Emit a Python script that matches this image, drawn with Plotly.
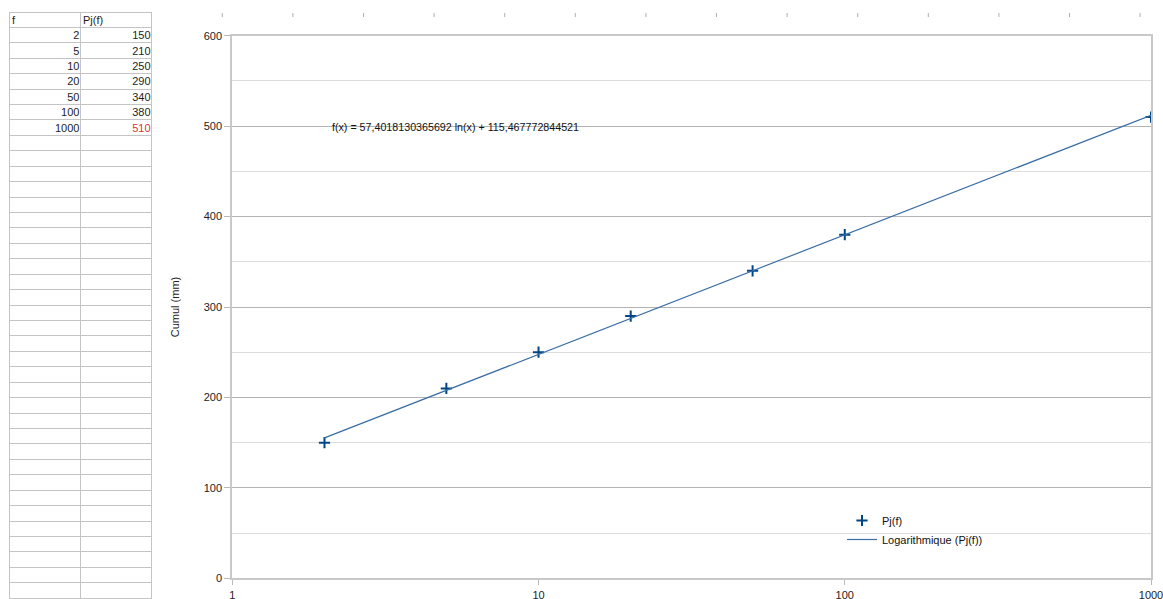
import numpy as np
import plotly.graph_objects as go

# ---- data ----
f_vals = [2, 5, 10, 20, 50, 100, 1000]
pj_vals = [150, 210, 250, 290, 340, 380, 510]
col_headers = ["f", "Pj(f)"]
x_tick_vals = [1, 10, 100, 1000]
x_tick_text = ["1", "10", "100", "1000"]
y_tick_vals = [0, 100, 200, 300, 400, 500, 600]
series_name = "Pj(f)"
trend_name = "Logarithmique (Pj(f))"
y_title = "Cumul (mm)"

W, H = 1163, 599
FONT = "Liberation Sans, Arial, sans-serif"
TXT = "#1e1e1e"

# logarithmic trend line (least squares on ln x)
a, b = np.polyfit(np.log(f_vals), pj_vals, 1)
eq_text = "f(x) = " + f"{a:.13f}".replace(".", ",") + " ln(x) + " + f"{b:.12f}".replace(".", ",")
xt = np.geomspace(min(f_vals), max(f_vals), 60)
yt = a * np.log(xt) + b

fig = go.Figure()

# ---- spreadsheet on the left ----
ROW_H = 15.43
HEAD_H = 15.3
TOP = 12.0
TXT_SHIFT = 4.4   # plotly table text sits lower than centre; compensate
n_rows = 37

# grid only (empty cells)
fig.add_trace(go.Table(
    domain=dict(x=[9.5 / W, 152.5 / W], y=[0, 1 - TOP / H]),
    columnwidth=[71, 71],
    header=dict(values=["", ""], height=HEAD_H, fill=dict(color="white"),
                line=dict(color="#c4c4c4", width=1)),
    cells=dict(values=[[""] * n_rows, [""] * n_rows], height=ROW_H,
               fill=dict(color="white"), line=dict(color="#c4c4c4", width=1)),
))

# header labels (left aligned)
fig.add_trace(go.Table(
    domain=dict(x=[4 / W, 146.6 / W], y=[0.5, 1 - (TOP - TXT_SHIFT) / H]),
    columnwidth=[71.3, 71.3],
    header=dict(values=col_headers, align="left", height=HEAD_H,
                fill=dict(color="rgba(0,0,0,0)"), line=dict(color="rgba(0,0,0,0)", width=0),
                font=dict(family=FONT, size=11, color=TXT)),
    cells=dict(values=[[], []], fill=dict(color="rgba(0,0,0,0)"),
               line=dict(color="rgba(0,0,0,0)", width=0)),
))

# values (right aligned); first data row carried by the header slot
c1 = [str(v) for v in f_vals]
c2 = [str(v) for v in pj_vals]
col2_colors = [TXT] * (len(pj_vals) - 1) + ["#e0332f"]
fig.add_trace(go.Table(
    domain=dict(x=[16.5 / W, 158.7 / W], y=[0.5, 1 - (TOP + HEAD_H - TXT_SHIFT) / H]),
    columnwidth=[71, 71.2],
    header=dict(values=[c1[0], c2[0]], align="right", height=ROW_H,
                fill=dict(color="rgba(0,0,0,0)"), line=dict(color="rgba(0,0,0,0)", width=0),
                font=dict(family=FONT, size=11, color=TXT)),
    cells=dict(values=[c1[1:], c2[1:]], align="right", height=ROW_H,
               fill=dict(color="rgba(0,0,0,0)"), line=dict(color="rgba(0,0,0,0)", width=0),
               font=dict(family=FONT, size=11, color=[TXT, col2_colors[1:]])),
))

# ---- chart ----
fig.add_trace(go.Scatter(
    x=f_vals, y=pj_vals, mode="markers", name=series_name,
    marker=dict(symbol="cross-thin", size=8, line=dict(width=2, color="#004586"), color="#004586"),
))
fig.add_trace(go.Scatter(
    x=xt, y=yt, mode="lines", name=trend_name,
    line=dict(color="#3a6ea5", width=1.2),
))

x0p, x1p = 232.3 / W, 1151.0 / W
y0p, y1p = 1 - 578.3 / H, 1 - 35.7 / H

axis_font = dict(family=FONT, size=11, color="#222222")
fig.update_xaxes(
    type="log", range=[0, 3], domain=[x0p, x1p], automargin=False,
    tickvals=x_tick_vals, ticktext=x_tick_text, ticklabeloverflow="allow",
    showgrid=False, zeroline=False,
    showline=True, mirror=True, linecolor="#c8c8c8", linewidth=2,
    ticks="outside", ticklen=5, tickcolor="#b8b8b8", tickwidth=1,
    tickfont=axis_font,
)
fig.update_yaxes(
    range=[0, 600], domain=[y0p, y1p], automargin=False,
    tickvals=y_tick_vals,
    showgrid=True, gridcolor="#b3b3b3", gridwidth=1, zeroline=False,
    minor=dict(dtick=50, showgrid=True, gridcolor="#dddddd", gridwidth=1, ticks=""),
    showline=True, mirror=True, linecolor="#c8c8c8", linewidth=2,
    ticks="outside", ticklen=6, tickcolor="#b8b8b8", tickwidth=1,
    tickfont=axis_font,
    title=dict(text=y_title, font=dict(family=FONT, size=11, color="#222222"), standoff=22),
)

fig.add_annotation(
    text=eq_text, xref="paper", yref="paper", x=330 / W, y=1 - 127 / H,
    xanchor="left", yanchor="middle", showarrow=False,
    font=dict(family=FONT, size=10.7, color="#111111"),
)

# spreadsheet column-boundary ticks above the chart
for i in range(14):
    xp = (222.3 + 70.6 * i) / W
    fig.add_shape(type="line", xref="paper", yref="paper", x0=xp, x1=xp,
                  y0=1 - 13 / H, y1=1 - 17 / H, line=dict(color="#b0b0b0", width=1))

fig.update_layout(
    width=W, height=H, autosize=False,
    margin=dict(l=0, r=0, t=0, b=0, autoexpand=False),
    paper_bgcolor="white", plot_bgcolor="white",
    showlegend=True,
    legend=dict(x=842 / W, y=1 - 506 / H, xanchor="left", yanchor="top",
                bgcolor="rgba(0,0,0,0)", borderwidth=0,
                font=dict(family=FONT, size=11, color="#111111"),
                tracegroupgap=0),
)

fig.write_html("out.html")
